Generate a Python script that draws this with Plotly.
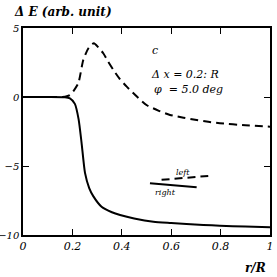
import plotly.graph_objects as go

# Solid curve ("right")
x_right = [0.0, 0.10, 0.17, 0.19, 0.21, 0.225, 0.237, 0.251, 0.268, 0.285, 0.318, 0.36, 0.393, 0.45, 0.528, 0.60, 0.662, 0.73, 0.797, 0.90, 1.0]
y_right = [0.0, 0.0, -0.02, -0.1, -0.5, -1.6, -3.3, -5.5, -6.6, -7.2, -7.95, -8.35, -8.55, -8.8, -9.04, -9.13, -9.2, -9.27, -9.33, -9.39, -9.44]

# Dashed curve ("left")
x_left = [0.0, 0.10, 0.17, 0.19, 0.205, 0.224, 0.244, 0.265, 0.287, 0.305, 0.325, 0.345, 0.366, 0.39, 0.42, 0.46, 0.50, 0.55, 0.595, 0.65, 0.703, 0.75, 0.797, 0.90, 1.0]
y_left = [0.0, 0.0, 0.02, 0.14, 0.45, 1.0, 2.68, 3.53, 3.9, 3.6, 3.17, 2.55, 1.96, 1.35, 0.75, 0.05, -0.58, -1.0, -1.3, -1.5, -1.67, -1.8, -1.9, -2.05, -2.15]

# Legend key samples
key_left_x = [0.561, 0.75]
key_left_y = [-6.0, -5.72]
key_right_x = [0.514, 0.703]
key_right_y = [-6.25, -6.54]

x_ticks = [0, 0.2, 0.4, 0.6, 0.8, 1.0]
x_labels = ["<i>0</i>", "<i>0.2</i>", "<i>0.4</i>", "<i>0.6</i>", "<i>0.8</i>", "<i>1</i>"]
y_ticks = [5, 0, -5, -10]
y_labels = ["<i>5</i>", "<i>0</i>", "<i>\u22125</i>", "<i>\u221210</i>"]

serif = "DejaVu Serif"

fig = go.Figure()
fig.add_trace(go.Scatter(x=x_right, y=y_right, mode="lines",
                         line=dict(color="black", width=2, shape="spline", smoothing=0.6)))
fig.add_trace(go.Scatter(x=x_left, y=y_left, mode="lines",
                         line=dict(color="black", width=2, dash="8px,5px", shape="spline", smoothing=0.6)))
fig.add_trace(go.Scatter(x=key_left_x, y=key_left_y, mode="lines",
                         line=dict(color="black", width=2, dash="8px,5px")))
fig.add_trace(go.Scatter(x=key_right_x, y=key_right_y, mode="lines",
                         line=dict(color="black", width=2)))

ann_font = dict(family=serif, size=11, color="black")
fig.add_annotation(x=0.648, y=-5.45, text="<i>left</i>", showarrow=False,
                   font=dict(family=serif, size=8, color="black"))
fig.add_annotation(x=0.575, y=-6.95, text="<i>right</i>", showarrow=False,
                   font=dict(family=serif, size=8, color="black"))
fig.add_annotation(x=0.534, y=3.4, text="<i>c</i>", showarrow=False, font=ann_font)
fig.add_annotation(x=0.656, y=1.65, text="<i>\u0394 x = 0.2: R</i>", showarrow=False, font=ann_font)
fig.add_annotation(x=0.67, y=0.55, text="<i>\u03c6  = 5.0 deg</i>", showarrow=False, font=ann_font)

fig.add_annotation(xref="paper", yref="paper", x=-0.045, y=1.077, xanchor="left", yanchor="middle",
                   text="<b><i>\u0394 E (arb. unit)</i></b>", showarrow=False,
                   font=dict(family=serif, size=12, color="black"))
fig.add_annotation(xref="paper", yref="paper", x=0.94, y=-0.16, xanchor="center", yanchor="middle",
                   text="<b><i>r/R</i></b>", showarrow=False,
                   font=dict(family=serif, size=12, color="black"))

axis_common = dict(showgrid=False, zeroline=False, showline=True, linecolor="black", linewidth=1.5,
                   mirror="ticks", ticks="inside", ticklen=6, tickcolor="black", tickwidth=1,
                   automargin=False)

fig.update_layout(
    width=277, height=277,
    margin=dict(l=23, r=7, t=28, b=42),
    paper_bgcolor="white", plot_bgcolor="white",
    showlegend=False,
    font=dict(family=serif),
    xaxis=dict(range=[0, 1], tickvals=x_ticks, ticktext=x_labels,
               tickfont=dict(family=serif, size=11, color="black"), **axis_common),
    yaxis=dict(range=[-10, 5], tickvals=y_ticks, ticktext=y_labels, ticklabelstandoff=0,
               tickfont=dict(family=serif, size=10, color="black"), **axis_common),
)

fig.write_html("out.html", config={"displayModeBar": False},
               post_script="document.body.style.margin='0';document.body.style.padding='0';")
